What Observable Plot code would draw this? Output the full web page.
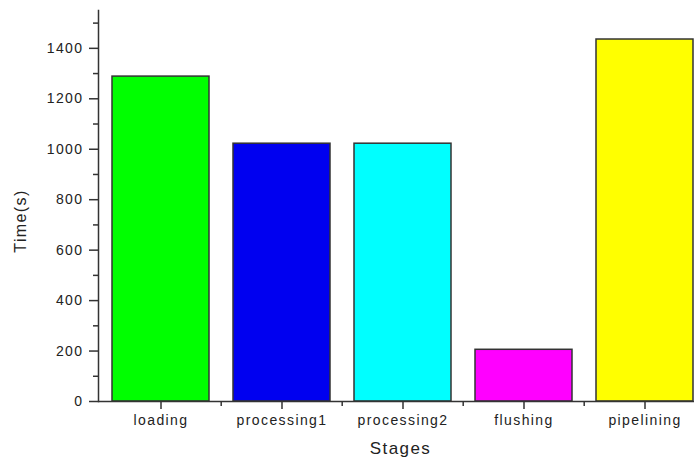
<!DOCTYPE html>
<html>
<head>
<meta charset="utf-8">
<script src="https://cdn.jsdelivr.net/npm/d3@7"></script>
<script src="https://cdn.jsdelivr.net/npm/@observablehq/plot@0.6"></script>
<style>
  html, body { margin: 0; padding: 0; background: #fff; }
  svg { display: block; }
</style>
</head>
<body>
<div id="chart"></div>
<script>
const stages = ["loading", "processing1", "processing2", "flushing", "pipelining"];
const times = [1288, 1022, 1022, 205, 1435];
const colors = ["#00ff00", "#0000f0", "#00ffff", "#ff00ff", "#ffff00"];
const majorTicks = [0, 200, 400, 600, 800, 1000, 1200, 1400];
const minorTicks = [100, 300, 500, 700, 900, 1100, 1300, 1500];

const data = stages.map((s, i) => ({stage: s, time: times[i], color: colors[i]}));
const xRange = [98, 706];
const step = (xRange[1] - xRange[0]) / stages.length;

const chart = Plot.plot({
  width: 698,
  height: 457,
  marginLeft: 98,
  marginRight: 4,
  marginTop: 10,
  marginBottom: 56,
  style: {fontFamily: "Liberation Sans, Arial, sans-serif", fontSize: "14px", color: "#222", background: "#fff", letterSpacing: "1.4px"},
  x: {domain: stages, range: xRange, paddingInner: 0.2, paddingOuter: 0.1, align: 0.5},
  y: {domain: [0, 1550]},
  marks: [
    Plot.barY(data, {x: "stage", y: "time", fill: "color", stroke: "#333", strokeWidth: 1.5}),
    Plot.frame({anchor: "left", stroke: "#333", strokeWidth: 1.5}),
    Plot.ruleY([0], {stroke: "#333", strokeWidth: 1.5}),
    Plot.axisY(majorTicks, {tickSize: 9, tickPadding: 6, strokeWidth: 1.5, stroke: "#333", fontSize: 14,
      tickFormat: "d", label: null}),
    Plot.axisY(minorTicks, {tickSize: 5, text: null, label: null, strokeWidth: 1.5, stroke: "#333"}),
    Plot.axisX({tickSize: 8, tickPadding: 6, strokeWidth: 1.5, stroke: "#333", fontSize: 14, label: null}),
    Plot.ruleX(stages.slice(1), {x: d => d, y1: 0, y2: 0, dx: -step / 2, insetBottom: -5, stroke: "#333", strokeWidth: 1.5}),
    Plot.text(["Time(s)"], {frameAnchor: "left", textAnchor: "middle", rotate: -90, dx: -78, dy: 15, fontSize: 16, fill: "#222"}),
    Plot.text(["Stages"], {frameAnchor: "bottom", dy: 52, dx: 4, fontSize: 17, fill: "#222"})
  ]
});
document.getElementById("chart").appendChild(chart);
</script>
</body>
</html>
